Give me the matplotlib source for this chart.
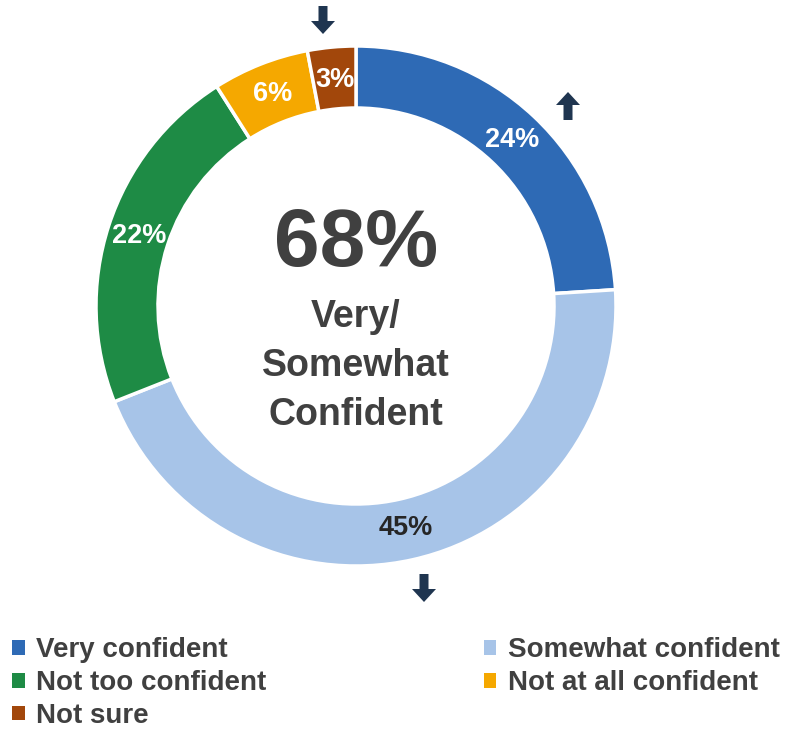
import matplotlib
matplotlib.use("Agg")
import matplotlib.pyplot as plt
from matplotlib.patches import FancyArrow, Patch

categories = ["Very confident", "Somewhat confident", "Not too confident",
              "Not at all confident", "Not sure"]
values = [24, 45, 22, 6, 3]
colors = ["#2E6AB5", "#A7C4E8", "#1E8B45", "#F5A800", "#A2470B"]
label_colors = ["white", "#262626", "white", "white", "white"]
center_big = "68%"
center_lines = ["Very/", "Somewhat", "Confident"]

W, H = 795, 731
fig = plt.figure(figsize=(W / 100, H / 100), dpi=100)
ax = fig.add_axes([0, 0, 1, 1])

cx, cy, R = 356, H - 306, 260
wedges, texts, autotexts = ax.pie(
    values, colors=colors, startangle=90, counterclock=False,
    radius=R, center=(cx, cy), autopct=lambda p: f"{p:.0f}%",
    pctdistance=0.875, frame=True,
    wedgeprops=dict(width=62, edgecolor="white", linewidth=2.5),
    textprops=dict(fontsize=19.5, family="Liberation Sans", fontweight="bold"))
for t, c in zip(autotexts, label_colors):
    t.set_color(c)
ax.set_xlim(0, W)
ax.set_ylim(0, H)
ax.set_aspect("equal")
ax.axis("off")

txtc = "#404040"
ax.text(cx, H - 266, center_big, ha="center", va="baseline", fontsize=59,
        fontweight="bold", family="Liberation Sans", color=txtc)
for line, yb in zip(center_lines, [327, 376, 425]):
    ax.text(cx, H - yb, line, ha="center", va="baseline",
            fontsize=27, fontweight="bold", family="Liberation Sans", color=txtc)

navy = "#1F3550"
def arrow(x, ytop, up):
    L = 28
    if up:
        ax.add_patch(FancyArrow(x, H - ytop - L, 0, L, width=9, head_width=24,
                                head_length=13, length_includes_head=True,
                                color=navy, lw=0))
    else:
        ax.add_patch(FancyArrow(x, H - ytop, 0, -L, width=9, head_width=24,
                                head_length=13, length_includes_head=True,
                                color=navy, lw=0))
arrow(568, 92, True)
arrow(323, 6, False)
arrow(424, 574, False)

order = [0, 2, 4, 1, 3]
handles = [Patch(facecolor=colors[i], edgecolor="none") for i in order]
labels = [categories[i] for i in order]
leg = fig.legend(handles, labels, ncol=2, loc="upper left",
                 bbox_to_anchor=(12 / W, 1 - 637 / H), frameon=False,
                 prop=dict(family="Liberation Sans", weight="bold", size=20),
                 handlelength=0.45, handleheight=0.45, handletextpad=0.4,
                 labelspacing=0.25, columnspacing=7.85, borderpad=0,
                 borderaxespad=0)
for t in leg.get_texts():
    t.set_color(txtc)

fig.savefig("out.png", dpi=100)
